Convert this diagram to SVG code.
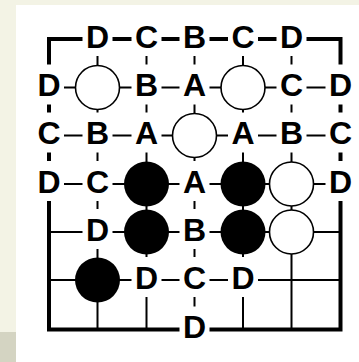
<svg xmlns="http://www.w3.org/2000/svg" width="359" height="362" viewBox="0 0 359 362">
<style>
.bd{stroke:#000;stroke-width:4;fill:none;stroke-linecap:square;stroke-linejoin:miter}
.ln{stroke:#000;stroke-width:2;fill:none}
.ko{fill:#fff}
.lb{font-family:"Liberation Sans",Arial,sans-serif;font-weight:bold;font-size:32px;fill:#000;text-anchor:middle}
.w{fill:#fff;stroke:#000;stroke-width:1.6}
.b{fill:#000}
</style>
<rect x="0" y="0" width="359" height="362" fill="#f3f3e5"/>
<rect x="0" y="332" width="16" height="30" fill="#d4d4c2"/>
<rect x="16" y="5" width="343" height="357" fill="#fff"/>
<g id="connectors">
<path class="ln" d="M49 87.5H340.5M49 135.5H340.5M49 184H340.5M49 232H340.5M49 280H340.5"/>
<path class="ln" d="M97.5 39V329.5M146.5 39V329.5M194.5 39V329.5M243 39V329.5M291.5 39V329.5"/>
<rect class="bd" x="49" y="39" width="291.5" height="290.5"/>
</g>
<defs>
<rect id="k" x="-15" y="-23" width="30" height="40" class="ko"/>
</defs>
<g id="stones">
<g id="w22"><circle class="w" cx="97.5" cy="87.5" r="22"/></g>
<g id="w52"><circle class="w" cx="243" cy="87.5" r="22"/></g>
<g id="w43"><circle class="w" cx="194.5" cy="135.5" r="22"/></g>
<g id="w64"><circle class="w" cx="291.5" cy="184" r="22"/></g>
<g id="w65"><circle class="w" cx="291.5" cy="232" r="22"/></g>
<g id="b34"><circle class="b" cx="146.5" cy="184" r="22.5"/></g>
<g id="b54"><circle class="b" cx="243" cy="184" r="22.5"/></g>
<g id="b35"><circle class="b" cx="146.5" cy="232" r="22.5"/></g>
<g id="b55"><circle class="b" cx="243" cy="232" r="22.5"/></g>
<g id="b26"><circle class="b" cx="97.5" cy="280" r="22.5"/></g>
</g>
<g id="labels">
<g id="l21"><use href="#k" x="97.5" y="39"/><text class="lb" x="97.5" y="47.5">D</text></g>
<g id="l31"><use href="#k" x="146.5" y="39"/><text class="lb" x="146.5" y="47.5">C</text></g>
<g id="l41"><use href="#k" x="194.5" y="39"/><text class="lb" x="194.5" y="47.5">B</text></g>
<g id="l51"><use href="#k" x="243" y="39"/><text class="lb" x="243" y="47.5">C</text></g>
<g id="l61"><use href="#k" x="291.5" y="39"/><text class="lb" x="291.5" y="47.5">D</text></g>
<g id="l12"><use href="#k" x="49" y="87.5"/><text class="lb" x="49" y="96">D</text></g>
<g id="l32"><use href="#k" x="146.5" y="87.5"/><text class="lb" x="146.5" y="96">B</text></g>
<g id="l42"><use href="#k" x="194.5" y="87.5"/><text class="lb" x="194.5" y="96">A</text></g>
<g id="l62"><use href="#k" x="291.5" y="87.5"/><text class="lb" x="291.5" y="96">C</text></g>
<g id="l72"><use href="#k" x="340.5" y="87.5"/><text class="lb" x="340.5" y="96">D</text></g>
<g id="l13"><use href="#k" x="49" y="135.5"/><text class="lb" x="49" y="144">C</text></g>
<g id="l23"><use href="#k" x="97.5" y="135.5"/><text class="lb" x="97.5" y="144">B</text></g>
<g id="l33"><use href="#k" x="146.5" y="135.5"/><text class="lb" x="146.5" y="144">A</text></g>
<g id="l53"><use href="#k" x="243" y="135.5"/><text class="lb" x="243" y="144">A</text></g>
<g id="l63"><use href="#k" x="291.5" y="135.5"/><text class="lb" x="291.5" y="144">B</text></g>
<g id="l73"><use href="#k" x="340.5" y="135.5"/><text class="lb" x="340.5" y="144">C</text></g>
<g id="l14"><use href="#k" x="49" y="184"/><text class="lb" x="49" y="192.5">D</text></g>
<g id="l24"><use href="#k" x="97.5" y="184"/><text class="lb" x="97.5" y="192.5">C</text></g>
<g id="l44"><use href="#k" x="194.5" y="184"/><text class="lb" x="194.5" y="192.5">A</text></g>
<g id="l74"><use href="#k" x="340.5" y="184"/><text class="lb" x="340.5" y="192.5">D</text></g>
<g id="l25"><use href="#k" x="97.5" y="232"/><text class="lb" x="97.5" y="240.5">D</text></g>
<g id="l45"><use href="#k" x="194.5" y="232"/><text class="lb" x="194.5" y="240.5">B</text></g>
<g id="l36"><use href="#k" x="146.5" y="280"/><text class="lb" x="146.5" y="288.5">D</text></g>
<g id="l46"><use href="#k" x="194.5" y="280"/><text class="lb" x="194.5" y="288.5">C</text></g>
<g id="l56"><use href="#k" x="243" y="280"/><text class="lb" x="243" y="288.5">D</text></g>
<g id="l47"><use href="#k" x="194.5" y="329.5"/><text class="lb" x="194.5" y="338">D</text></g>
</g>
</svg>
